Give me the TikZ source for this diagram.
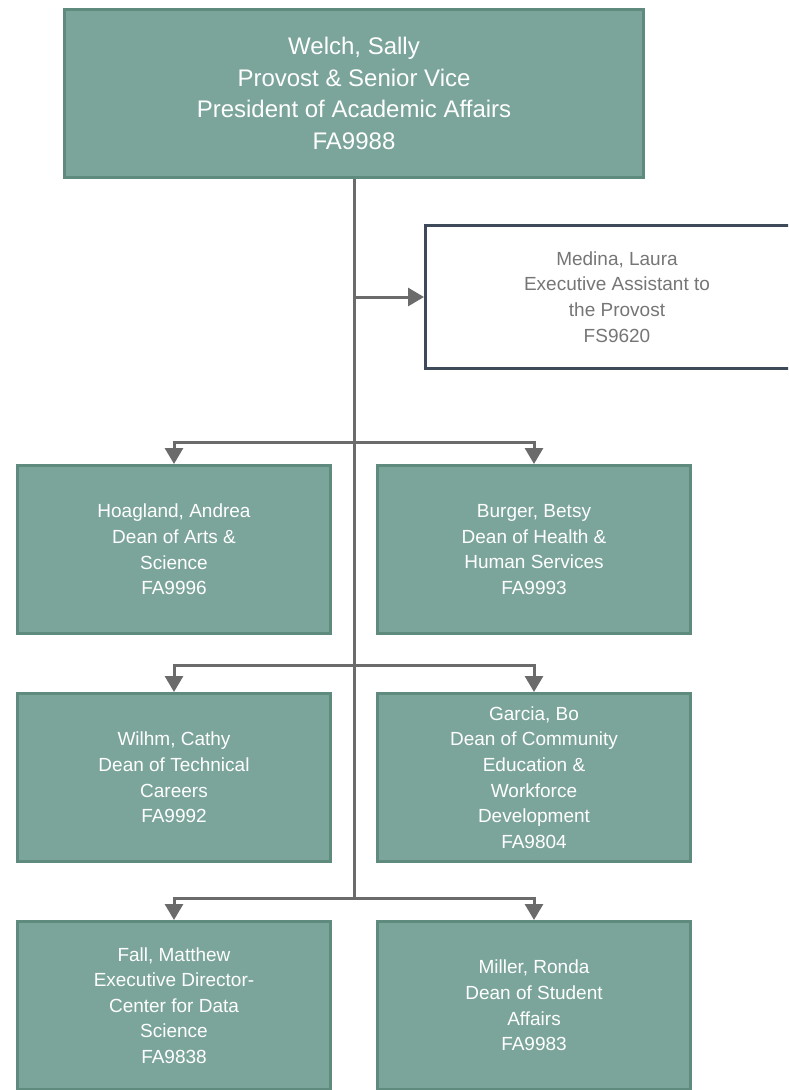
\documentclass[tikz,border=0pt]{standalone}
\usepackage{fontspec}
\setmainfont{Liberation Sans}
\usetikzlibrary{arrows.meta}
\definecolor{boxfill}{HTML}{7BA59A}
\definecolor{boxline}{HTML}{5F8A7E}
\definecolor{asstline}{HTML}{3E4A59}
\definecolor{asstgray}{HTML}{767676}
\definecolor{linkgray}{HTML}{6B6B6B}
\tikzset{
	deanbox/.style={draw=boxline, fill=boxfill, line width=3pt, text=white, align=center, inner sep=0pt, minimum width=313pt, minimum height=168pt, font=\fontsize{19}{25.6}\selectfont},
	provostbox/.style={deanbox, minimum width=579pt, font=\fontsize{24}{31.7}\selectfont},
	asstbox/.style={draw=asstline, fill=white, line width=3pt, text=asstgray, align=center, inner sep=0pt, minimum width=383pt, minimum height=143pt, font=\fontsize{19}{25.6}\selectfont},
	link/.style={draw=linkgray, line width=3pt},
	linkarrow/.style={link, -{Triangle[width=18pt,length=16pt]}}
}

\begin{document}
\begin{tikzpicture}[x=1pt,y=-1pt]
		%%%%% START %%%%%
		
		\useasboundingbox (0, 0) rectangle (788, 1090);
		\clip (0, 0) rectangle (788, 1090);
		
		\node[provostbox] (provost) at (354, 93.5) {Welch, Sally\\Provost \& Senior Vice\\President of Academic Affairs\\FA9988};
		\node[asstbox] (medina) at (617, 297) {Medina, Laura\\Executive Assistant to\\the Provost\\FS9620};
		
		\node[deanbox] (hoagland) at (174, 549.5) {Hoagland, Andrea\\Dean of Arts \&\\Science\\FA9996};
		\node[deanbox] (burger) at (534, 549.5) {Burger, Betsy\\Dean of Health \&\\Human Services\\FA9993};
		
		\node[deanbox] (wilhm) at (174, 777.5) {Wilhm, Cathy\\Dean of Technical\\Careers\\FA9992};
		\node[deanbox] (garcia) at (534, 777.5) {Garcia, Bo\\Dean of Community\\Education \&\\Workforce\\Development\\FA9804};
		
		\node[deanbox] (fall) at (174, 1005.5) {Fall, Matthew\\Executive Director-\\Center for Data\\Science\\FA9838};
		\node[deanbox] (miller) at (534, 1005.5) {Miller, Ronda\\Dean of Student\\Affairs\\FA9983};
		
		% trunk and branch points
		\coordinate (split1) at (354, 442);
		\coordinate (split2) at (354, 665);
		\coordinate (split3) at (354, 898);
		\draw[link] (provost.south) -- (split3);
		\draw[linkarrow] (provost.south |- medina.west) -- (medina.west);
		
		\draw[linkarrow] (split1) -| (hoagland.north);
		\draw[linkarrow] (split1) -| (burger.north);
		\draw[linkarrow] (split2) -| (wilhm.north);
		\draw[linkarrow] (split2) -| (garcia.north);
		\draw[linkarrow] (split3) -| (fall.north);
		\draw[linkarrow] (split3) -| (miller.north);
		
		%%%%% END %%%%%
	\end{tikzpicture}
\end{document}
